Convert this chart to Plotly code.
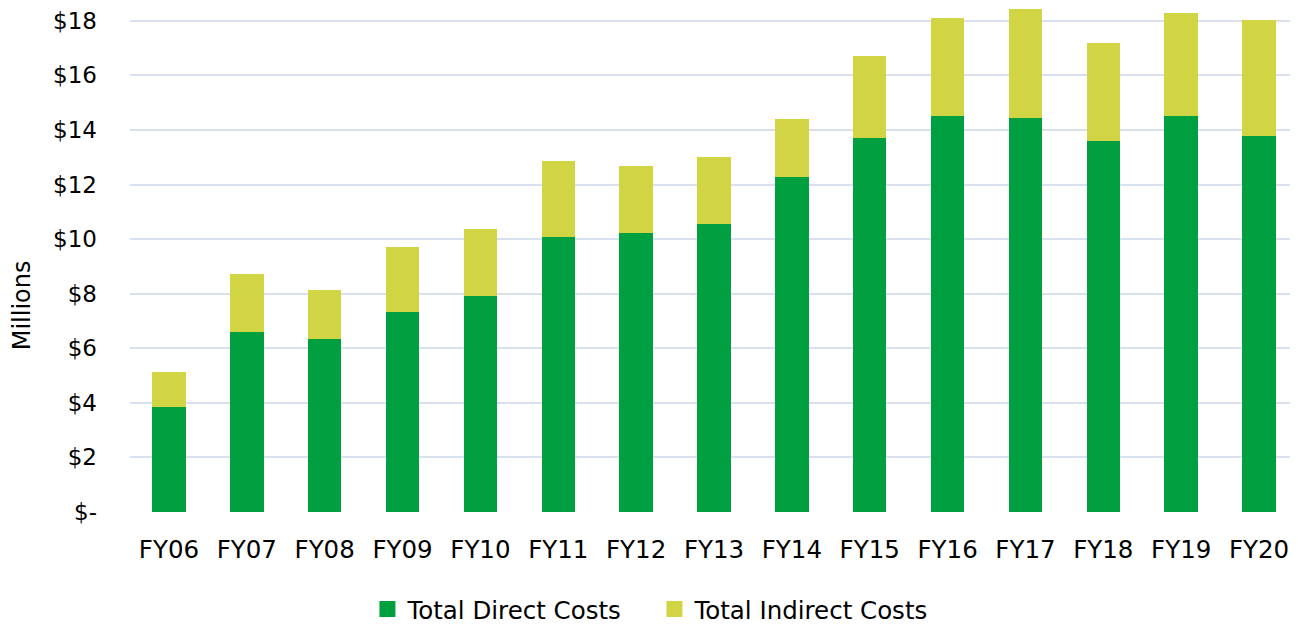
import plotly.graph_objects as go

years = ["FY06", "FY07", "FY08", "FY09", "FY10", "FY11", "FY12", "FY13",
         "FY14", "FY15", "FY16", "FY17", "FY18", "FY19", "FY20"]
direct_costs = [3.84, 6.60, 6.34, 7.33, 7.92, 10.07, 10.24, 10.55,
                12.29, 13.69, 14.50, 14.43, 13.59, 14.50, 13.77]
indirect_costs = [1.29, 2.12, 1.80, 2.38, 2.45, 2.78, 2.45, 2.47,
                  2.11, 3.02, 3.60, 4.00, 3.61, 3.77, 4.25]
tick_vals = [0, 2, 4, 6, 8, 10, 12, 14, 16, 18]
tick_text = ["$-", "$2", "$4", "$6", "$8", "$10", "$12", "$14", "$16", "$18"]

font_family = "DejaVu Sans, Verdana, sans-serif"
green = "#00A040"
yellow = "#D1D544"

fig = go.Figure()
fig.add_trace(go.Bar(x=years, y=direct_costs, name="Total Direct Costs",
                     marker=dict(color=green, line=dict(width=0)), showlegend=False))
fig.add_trace(go.Bar(x=years, y=indirect_costs, name="Total Indirect Costs",
                     marker=dict(color=yellow, line=dict(width=0)), showlegend=False))

# legend-only entries so the swatches can be bigger squares
for name, col in [("Total Direct Costs", green), ("Total Indirect Costs", yellow)]:
    fig.add_trace(go.Scatter(x=[None], y=[None], mode="markers", name=name,
                             marker=dict(symbol="square", size=16, color=col)))

# the page body has an 8px margin, so the layout is offset accordingly
fig.update_layout(
    barmode="stack",
    bargap=0.57,
    width=1298, height=624,
    plot_bgcolor="white", paper_bgcolor="white",
    font=dict(family=font_family, size=23, color="#000000"),
    margin=dict(l=122, r=8, t=0, b=120),
    legend=dict(orientation="h", x=0.449, xanchor="center", y=-0.1925, yanchor="middle",
                font=dict(size=24.5), itemwidth=30, traceorder="normal",
                entrywidth=242, entrywidthmode="pixels"),
    xaxis=dict(showgrid=False, showline=False, ticks="", tickfont=dict(size=24.5),
               ticklabelstandoff=20),
    yaxis=dict(range=[0, 18.47], tickvals=tick_vals, ticktext=tick_text,
               showgrid=True, gridcolor="#D9E1EE", gridwidth=2, zeroline=False,
               showline=False, ticks="", tickfont=dict(size=23), ticklabelstandoff=32,
               ticklabeloverflow="allow"),
    annotations=[dict(text="Millions", textangle=-90, xref="paper", yref="paper",
                      x=-0.0925, y=0.41, xanchor="center", yanchor="middle",
                      showarrow=False, font=dict(size=24))],
    showlegend=True,
)

fig.write_html("out.html")
